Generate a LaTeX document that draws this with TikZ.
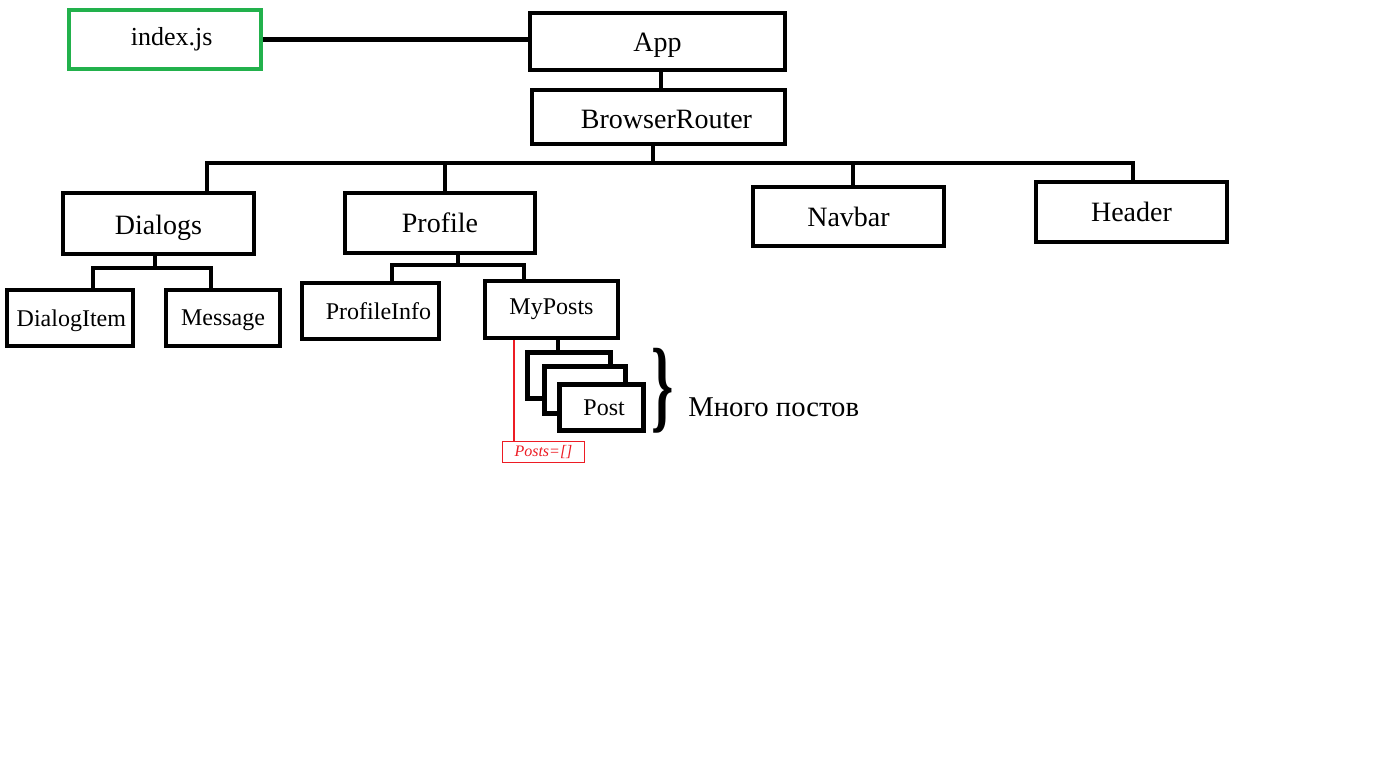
\documentclass[tikz,border=0pt]{standalone}
\usepackage{fontspec}
\usepackage{graphicx}
\setmainfont{Liberation Serif}
\definecolor{pgreen}{HTML}{22B14C}
\definecolor{pred}{HTML}{ED1C24}
\newcommand{\dn}[2]{\raisebox{-#1}[\height][\depth]{#2}}
\tikzset{
  sz/.style 2 args={minimum width=#1*0.75pt, minimum height=#2*0.75pt},
  box/.style={draw, rectangle, line width=3pt, inner sep=0pt, fill=white},
  big/.style={font=\fontsize{21}{24}\selectfont},
  small/.style={font=\fontsize{18}{21}\selectfont},
  conn/.style={line width=3.5pt, line join=miter},
  card/.style={draw, rectangle, line width=3.75pt, inner sep=0pt, fill=white, minimum width=83*0.75pt, minimum height=46*0.75pt},
}
\begin{document}
\begin{tikzpicture}[x=0.75pt, y=-0.75pt]
\useasboundingbox[fill=white] (0,0) rectangle (1382,768);
% top
\node[box, draw=pgreen, sz={192}{59}, font=\fontsize{19.5}{22}\selectfont] (index) at (165,39.5) {\hspace*{10pt}index.js};
\node[box, big, sz={255}{57}] (app) at (657.5,41.5) {\dn{3pt}{App}};
\node[box, big, sz={253}{54}] (br) at (658.5,117) {\hspace*{12pt}\dn{2pt}{BrowserRouter}};
\draw[conn] (index.east) -- (index.east -| app.west);
\coordinate (av) at (661,0);
\draw[conn] (av |- app.south) -- (av |- br.north);
% level 2
\node[box, big, sz={191}{61}] (dialogs) at (158.5,223.5) {\dn{3pt}{Dialogs}};
\node[box, big, sz={190}{60}] (profile) at (440,223) {Profile};
\node[box, big, sz={191}{59}] (navbar) at (848.5,216.5) {Navbar};
\node[box, big, sz={191}{60}] (header) at (1131.5,212) {Header};
\coordinate (b0) at (653,163);
\coordinate (b1) at (207,163);
\coordinate (b2) at (445,163);
\coordinate (b3) at (853,163);
\coordinate (b4) at (1133,163);
\draw[conn] (b0 |- br.south) -- (b0);
\draw[conn] (b1 |- dialogs.north) -- (b1) -- (b4) -- (b4 |- header.north);
\draw[conn] (b2) -- (b2 |- profile.north);
\draw[conn] (b3) -- (b3 |- navbar.north);
% level 3
\node[box, small, sz={126}{56}] (ditem) at (70,318) {\hspace*{2pt}\dn{2pt}{DialogItem}};
\node[box, small, sz={114}{56}] (message) at (223,318) {\dn{2pt}{Message}};
\node[box, small, sz={137}{56}] (pinfo) at (370.5,311) {\hspace*{12pt}ProfileInfo};
\node[box, small, sz={133}{57}] (myposts) at (551.5,309.5) {MyPosts};
\coordinate (d0) at (155,268);
\coordinate (d1) at (93,268);
\coordinate (d2) at (211,268);
\draw[conn] (d0 |- dialogs.south) -- (d0);
\draw[conn] (d1 |- ditem.north) -- (d1) -- (d2) -- (d2 |- message.north);
\coordinate (p0) at (458,265);
\coordinate (p1) at (392,265);
\coordinate (p2) at (524,265);
\draw[conn] (p0 |- profile.south) -- (p0);
\draw[conn] (p1 |- pinfo.north) -- (p1) -- (p2) -- (p2 |- myposts.north);
% posts
\coordinate (m) at (558,0);
\node[card] (card1) at (569,375.5) {};
\draw[conn] (m |- myposts.south) -- (m |- card1.north);
\node[card, minimum width=81*0.75pt, minimum height=47*0.75pt] (card2) at (585,390) {};
\node[card, minimum width=84*0.75pt, small] (post) at (601.5,407.5) {\hspace*{4pt}Post};
\node[inner sep=0pt] (brace) at (663,391) {\scalebox{0.55}[1]{\fontsize{77}{77}\selectfont\bfseries\}}};
\node[anchor=west, inner sep=0pt, font=\fontsize{21.5}{24}\selectfont] (many) at (688,407) {Много постов};
% red label
\node[draw=pred, line width=0.75pt, sz={82}{21}, inner sep=0pt, text=pred, font=\fontsize{12}{14}\selectfont\itshape] (postsl) at (543.5,452) {Posts=[]};
\coordinate (r) at (514,0);
\draw[pred, line width=1.5pt] (r |- myposts.south) -- (r |- postsl.north);
\end{tikzpicture}
\end{document}
